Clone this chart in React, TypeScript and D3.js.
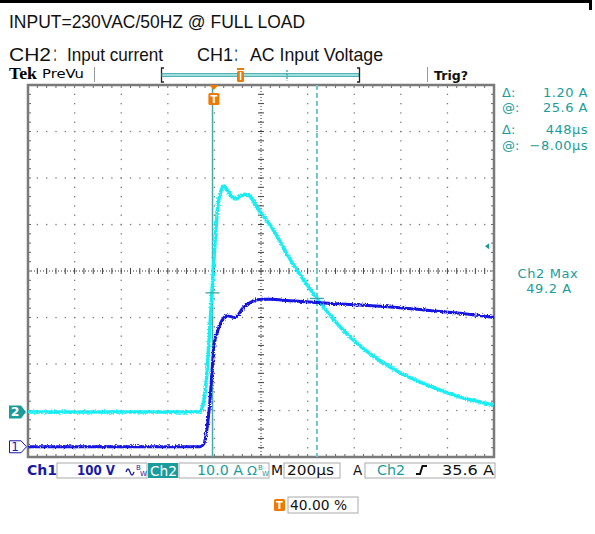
import React from "react";
import * as d3 from "d3";

// ---------- data ----------
const headerLine1 = "INPUT=230VAC/50HZ @ FULL LOAD";
const headerLine2a = "CH2：Input current";
const headerLine2b = "CH1：AC Input Voltage";

// CH2 input current (A) vs time (µs, relative to trigger)
const ch2Time = [-800, -62, -49, -36, -23, -10, 3, 15, 28, 41, 58, 76, 93, 110, 136, 153, 174, 200, 247, 324, 440, 539, 625, 711, 797, 968, 1097, 1200];
const ch2Amps = [0, 0, 1.5, 5.8, 15.4, 26.1, 36.8, 44.3, 47.5, 48.6, 47.5, 46.2, 45.8, 46.4, 46.8, 46.4, 44.7, 42.8, 39.6, 32.9, 24.4, 18.3, 14.2, 11.0, 8.4, 4.7, 2.6, 1.5];

// CH1 AC input voltage (V) vs time (µs)
const ch1Time = [-800, -62, -49, -40, -27, -19, -10, -2, 11, 33, 54, 89, 123, 161, 204, 239, 324, 440, 582, 711, 883, 1055, 1200];
const ch1Volts = [0, 0, 4, 15, 58, 100, 164, 218, 244, 272, 282, 278, 299, 312, 317, 317, 314, 310, 306, 302, 295, 287, 278];

const cursorTimes = [-8, 440];
const cursorAmps = [25.6, 24.4];
const triggerLevelA = 35.6;

const readouts = [
  { label: "Δ:", value: "1.20 A" },
  { label: "@:", value: "25.6 A" },
  { label: "Δ:", value: "448µs" },
  { label: "@:", value: "−8.00µs" },
];
const measLabel = "Ch2 Max";
const measValue = "49.2 A";

// ---------- layout ----------
const W = 595, H = 534;
const GX0 = 28, GX1 = 494, GY0 = 85, GY1 = 457;
const NX = 10, NY = 8;

const x = d3.scaleLinear().domain([-800, 1200]).range([GX0, GX1]);
const divY = d3.scaleLinear().domain([-NY / 2, NY / 2]).range([GY1, GY0]);
const ch2Pos = -3.03, ch2Scale = 10;
const ch1Pos = -3.78, ch1Scale = 100;
const yA = (a: number) => divY(ch2Pos + a / ch2Scale);
const yV = (v: number) => divY(ch1Pos + v / ch1Scale);

const TEAL = "#1a9c9c";
const BLUE = "#1a1aa8";
const CYAN = "#18eef4";
const TRACE_BLUE = "#1212e0";
const ORANGE = "#f07a00";
const FONT = "DejaVu Sans, Verdana, sans-serif";
const HFONT = "Liberation Sans Narrow, Arial Narrow, Liberation Sans, Noto Sans CJK SC, sans-serif";

function Graticule() {
  const dx = (GX1 - GX0) / NX;
  const dy = (GY1 - GY0) / NY;
  const els: React.ReactNode[] = [];
  const cx = GX0 + dx * 5, cy = GY0 + dy * 4;
  for (let i = 1; i < NX; i++) {
    if (i === 5) continue;
    const gx = GX0 + i * dx;
    for (let j = 1; j < NY * 5; j++) {
      const gy = GY0 + (j * dy) / 5;
      els.push(<rect key={`v${i}-${j}`} x={gx - 0.6} y={gy - 0.6} width={1.3} height={1.3} fill="#7a7a7a" />);
    }
  }
  for (let j = 1; j < NY; j++) {
    if (j === 4) continue;
    const gy = GY0 + j * dy;
    for (let i = 1; i < NX * 5; i++) {
      const gx = GX0 + (i * dx) / 5;
      els.push(<rect key={`h${j}-${i}`} x={gx - 0.6} y={gy - 0.6} width={1.3} height={1.3} fill="#7a7a7a" />);
    }
  }
  els.push(<line key="cv" x1={cx} x2={cx} y1={GY0} y2={GY1} stroke="#333" strokeWidth={1} strokeDasharray="1,2" />);
  els.push(<line key="ch" x1={GX0} x2={GX1} y1={cy} y2={cy} stroke="#333" strokeWidth={1} strokeDasharray="1,2" />);
  for (let j = 1; j < NY * 5; j++) {
    const gy = GY0 + (j * dy) / 5;
    els.push(<line key={`cvt${j}`} x1={cx - 3} x2={cx + 3} y1={gy} y2={gy} stroke="#444" strokeWidth={1} />);
    els.push(<line key={`lt${j}`} x1={GX0} x2={GX0 + 3} y1={gy} y2={gy} stroke="#666" strokeWidth={1} />);
    els.push(<line key={`rt${j}`} x1={GX1 - 3} x2={GX1} y1={gy} y2={gy} stroke="#666" strokeWidth={1} />);
  }
  for (let i = 1; i < NX * 5; i++) {
    const gx = GX0 + (i * dx) / 5;
    els.push(<line key={`cht${i}`} x1={gx} x2={gx} y1={cy - 3} y2={cy + 3} stroke="#444" strokeWidth={1} />);
    els.push(<line key={`tt${i}`} x1={gx} x2={gx} y1={GY0} y2={GY0 + 3} stroke="#666" strokeWidth={1} />);
    els.push(<line key={`bt${i}`} x1={gx} x2={gx} y1={GY1 - 3} y2={GY1} stroke="#666" strokeWidth={1} />);
  }
  els.push(<rect key="frame" x={GX0} y={GY0} width={GX1 - GX0} height={GY1 - GY0} fill="none" stroke="#7a7a7a" strokeWidth={2.5} />);
  return <g>{els}</g>;
}

export default function App() {
  const line2 = d3.line<number>().x((_, i) => x(ch2Time[i])).y((a) => yA(a)).curve(d3.curveMonotoneX);
  const line1 = d3.line<number>().x((_, i) => x(ch1Time[i])).y((v) => yV(v)).curve(d3.curveMonotoneX);
  const c1x = x(cursorTimes[0]);
  const c2x = x(cursorTimes[1]);
  const trigX = x(0);
  const g2 = yA(0);
  const g1 = yV(0);
  const tl = yA(triggerLevelA);
  const [h2aL, h2aR] = headerLine2a.split("：");
  const [h2bL, h2bR] = headerLine2b.split("：");

  return (
    <svg width={W} height={H} style={{ position: "absolute", left: 0, top: 0, background: "#fff" }}>
      <defs>
        <filter id="noise" filterUnits="userSpaceOnUse" x={0} y={60} width={W} height={420}>
          <feTurbulence type="fractalNoise" baseFrequency="0.9" numOctaves={1} seed={4} result="t" />
          <feDisplacementMap in="SourceGraphic" in2="t" scale={4} xChannelSelector="R" yChannelSelector="G" />
        </filter>
        <clipPath id="gclip">
          <rect x={GX0} y={GY0} width={GX1 - GX0} height={GY1 - GY0} />
        </clipPath>
      </defs>
      <rect x={0} y={0} width={W} height={H} fill="#fff" />
      <rect x={0} y={0} width={591} height={3} fill="#000" />
      <rect x={589} y={0} width={3} height={10} fill="#000" />

      {/* headers */}
      <text x={9} y={28} fontFamily={HFONT} fontSize={18.5} textLength={296} lengthAdjust="spacingAndGlyphs" fill="#111">{headerLine1}</text>
      <text x={9} y={61} fontFamily={HFONT} fontSize={18.5} textLength={42} lengthAdjust="spacingAndGlyphs" fill="#111">{h2aL}</text>
      <text transform="translate(53,61) scale(0.45,1)" fontFamily={HFONT} fontSize={18.5} fill="#111">：</text>
      <text x={67} y={61} fontFamily={HFONT} fontSize={18.5} textLength={96} lengthAdjust="spacingAndGlyphs" fill="#111">{h2aR}</text>
      <text x={197} y={61} fontFamily={HFONT} fontSize={18.5} textLength={36} lengthAdjust="spacingAndGlyphs" fill="#111">{h2bL}</text>
      <text transform="translate(234,61) scale(0.45,1)" fontFamily={HFONT} fontSize={18.5} fill="#111">：</text>
      <text x={250} y={61} fontFamily={HFONT} fontSize={18.5} textLength={133} lengthAdjust="spacingAndGlyphs" fill="#111">{h2bR}</text>

      {/* status top bar */}
      <text x={9} y={79} fontFamily="Liberation Serif, Times New Roman, serif" fontWeight="bold" fontSize={17} textLength={28} lengthAdjust="spacingAndGlyphs" fill="#000">Tek</text>
      <text x={42} y={78} fontFamily={FONT} fontSize={12.5} textLength={42} lengthAdjust="spacingAndGlyphs" fill="#000">PreVu</text>
      <line x1={94.5} x2={94.5} y1={67} y2={82} stroke="#999" strokeWidth={1} />
      <path d="M164,68 L161.5,68 L161.5,82 L164,82" fill="none" stroke="#222" strokeWidth={1.3} />
      <rect x={162} y={73.5} width={197} height={3} fill="#9fdede" stroke="#3aa5a5" strokeWidth={0.8} />
      <path d="M357,68 L359.5,68 L359.5,82 L357,82" fill="none" stroke="#222" strokeWidth={1.3} />
      <rect x={237} y={71} width={7} height={11} rx={1.5} fill={ORANGE} />
      <rect x={237} y={68} width={7} height={2} fill={ORANGE} />
      <rect x={239.8} y={72} width={1.5} height={8} fill="#fff" />
      <line x1={287} x2={287} y1={70} y2={81} stroke="#2a9a9a" strokeWidth={1.2} strokeDasharray="2,1.5" />
      <line x1={427.5} x2={427.5} y1={67} y2={82} stroke="#999" strokeWidth={1} />
      <text x={434} y={80} fontFamily={FONT} fontWeight="bold" fontSize={13} textLength={34} lengthAdjust="spacingAndGlyphs" fill="#111">Trig?</text>

      <Graticule />

      {/* cursors */}
      <line x1={c1x} x2={c1x} y1={GY0} y2={GY1} stroke="#4aa8a8" strokeWidth={1.5} />
      <line x1={c2x} x2={c2x} y1={GY0} y2={GY1} stroke="#6cc8c8" strokeWidth={2} strokeDasharray="5,3" />

      {/* traces */}
      <g clipPath="url(#gclip)">
        <path d={line2(ch2Amps) || ""} fill="none" stroke={CYAN} strokeWidth={3.5} filter="url(#noise)" />
        <path d={line1(ch1Volts) || ""} fill="none" stroke={TRACE_BLUE} strokeWidth={3} filter="url(#noise)" />
      </g>

      <line x1={c1x - 7} x2={c1x + 7} y1={yA(cursorAmps[0])} y2={yA(cursorAmps[0])} stroke="#3aa5a5" strokeWidth={1.3} />
      <line x1={c2x - 7} x2={c2x + 7} y1={yA(cursorAmps[1])} y2={yA(cursorAmps[1])} stroke="#3aa5a5" strokeWidth={1.3} />

      {/* trigger position marker */}
      <path d={`M${trigX - 5},${GY0} L${trigX + 4},${GY0} L${trigX - 0.5},${GY0 + 5} Z`} fill={ORANGE} />
      <rect x={trigX - 6} y={GY0 + 8} width={11} height={12} rx={1.5} fill={ORANGE} />
      <text x={trigX - 0.5} y={GY0 + 18} textAnchor="middle" fontFamily={FONT} fontWeight="bold" fontSize={10} fill="#fff">T</text>

      <path d={`M${GX1 - 9},${tl} L${GX1 - 5},${tl - 3} L${GX1 - 5},${tl + 3} Z`} fill={TEAL} />

      {/* channel ground markers */}
      <path d={`M9,${g2 - 6.5} L21,${g2 - 6.5} L26,${g2} L21,${g2 + 6.5} L9,${g2 + 6.5} Z`} fill={TEAL} />
      <text x={15} y={g2 + 4.5} textAnchor="middle" fontFamily={FONT} fontWeight="bold" fontSize={12.5} fill="#fff">2</text>
      <path d={`M9.5,${g1 - 6} L21,${g1 - 6} L26.5,${g1} L21,${g1 + 6} L9.5,${g1 + 6} Z`} fill="#fff" stroke={BLUE} strokeWidth={1} />
      <text x={15} y={g1 + 4.5} textAnchor="middle" fontFamily={FONT} fontSize={12} fill={BLUE}>1</text>

      {/* right readouts */}
      {readouts.map((r, i) => {
        const yy = [97, 112, 134, 150][i];
        return (
          <g key={i}>
            <text x={502} y={yy} fontFamily={FONT} fontSize={13} fill={TEAL}>{r.label}</text>
            <text x={588} y={yy} textAnchor="end" fontFamily={FONT} fontSize={13} letterSpacing={0.5} fill={TEAL}>{r.value}</text>
          </g>
        );
      })}
      <text x={548} y={278} textAnchor="middle" fontFamily={FONT} fontSize={13} letterSpacing={0.6} fill={TEAL}>{measLabel}</text>
      <text x={549} y={293} textAnchor="middle" fontFamily={FONT} fontSize={13} letterSpacing={0.6} fill={TEAL}>{measValue}</text>

      {/* bottom status bar */}
      <text x={27} y={475} fontFamily={FONT} fontWeight="bold" fontSize={14} fill={BLUE}>Ch1</text>
      <rect x={57} y={463} width={90} height={15} fill="#fff" stroke="#aaa" strokeWidth={1} />
      <text x={77} y={475} fontFamily={FONT} fontWeight="bold" fontSize={13.5} textLength={38} lengthAdjust="spacingAndGlyphs" fill={BLUE}>100 V</text>
      <path d="M126,472 q2,-6 4,0 t4,0" fill="none" stroke={BLUE} strokeWidth={1.3} />
      <text x={136} y={470} fontFamily={FONT} fontSize={7} fill={BLUE}>B</text>
      <text x={140} y={476} fontFamily={FONT} fontSize={7} fill={BLUE}>W</text>
      <rect x={148} y={463} width={30} height={15} fill={TEAL} />
      <text x={150} y={476} fontFamily={FONT} fontSize={14} textLength={27} lengthAdjust="spacingAndGlyphs" fill="#fff">Ch2</text>
      <rect x={179} y={463} width={90} height={15} fill="#fff" stroke="#aaa" strokeWidth={1} />
      <text x={197} y={475} fontFamily={FONT} fontSize={13.5} textLength={46} lengthAdjust="spacingAndGlyphs" fill={TEAL}>10.0 A</text>
      <text x={247} y={475} fontFamily={FONT} fontSize={13} fill={TEAL}>Ω</text>
      <text x={258} y={470} fontFamily={FONT} fontSize={7} fill={TEAL}>B</text>
      <text x={262} y={476} fontFamily={FONT} fontSize={7} fill={TEAL}>W</text>
      <text x={271} y={475} fontFamily={FONT} fontSize={14} fill="#111">M</text>
      <rect x={284} y={463} width={56} height={15} fill="#fff" stroke="#aaa" strokeWidth={1} />
      <text x={287} y={475} fontFamily={FONT} fontSize={13.5} textLength={47} lengthAdjust="spacingAndGlyphs" fill="#111">200µs</text>
      <text x={353} y={475} fontFamily={FONT} fontSize={13.5} fill="#111">A</text>
      <rect x={365} y={463} width={130} height={15} fill="#fff" stroke="#aaa" strokeWidth={1} />
      <text x={377} y={475} fontFamily={FONT} fontSize={13.5} textLength={28} lengthAdjust="spacingAndGlyphs" fill={TEAL}>Ch2</text>
      <path d="M416,474 L420,474 L422.5,466 L427,466" fill="none" stroke="#111" strokeWidth={2} />
      <text x={494} y={475} textAnchor="end" fontFamily={FONT} fontSize={13.5} textLength={52} lengthAdjust="spacingAndGlyphs" fill="#111">35.6 A</text>

      {/* trigger position readout */}
      <rect x={274} y={499} width={11} height={12} rx={1.5} fill={ORANGE} />
      <text x={279.5} y={509} textAnchor="middle" fontFamily={FONT} fontWeight="bold" fontSize={10} fill="#fff">T</text>
      <rect x={288} y={497} width={70} height={16} fill="#fff" stroke="#aaa" strokeWidth={1} />
      <text x={290} y={510} fontFamily={FONT} fontSize={13.5} textLength={57} lengthAdjust="spacingAndGlyphs" fill="#111">40.00 %</text>
    </svg>
  );
}
